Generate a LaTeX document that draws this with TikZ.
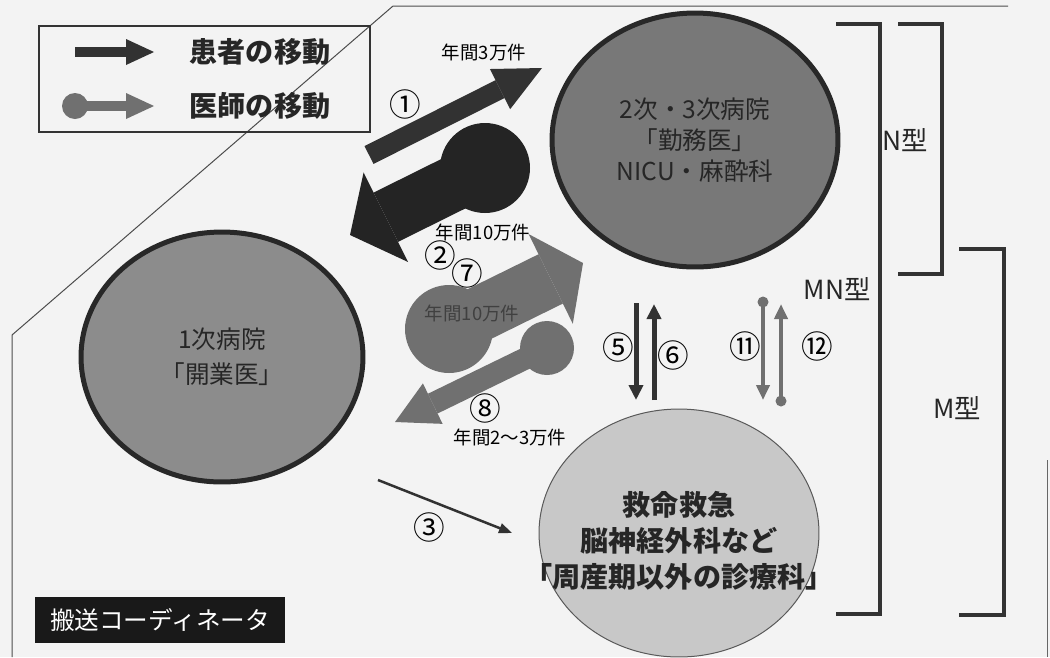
\documentclass[tikz,border=0pt]{standalone}
\usepackage{fontspec}
\setmainfont{Noto Sans CJK JP}
\usetikzlibrary{arrows.meta,shapes.geometric}
\definecolor{bgpaper}{RGB}{243,243,243}
\definecolor{patdark}{RGB}{50,50,50}
\definecolor{patdeep}{RGB}{36,36,36}
\definecolor{docgray}{RGB}{112,112,112}
\definecolor{hospA}{RGB}{140,140,140}
\definecolor{hospB}{RGB}{120,120,120}
\definecolor{hospC}{RGB}{200,200,200}
\definecolor{rimdark}{RGB}{40,40,40}
\begin{document}
\begin{tikzpicture}[x=0.02cm, y=-0.02cm,
  hosp/.style={ellipse, draw=rimdark, line width=0.1cm, inner sep=0pt, align=center, text=black!85},
  num/.style={font=\fontsize{18}{18}\selectfont, inner sep=0pt},
  cnt/.style={font=\fontsize{10.5}{12}\selectfont, inner sep=0pt},
  typ/.style={font=\fontsize{15}{15}\selectfont, inner sep=0pt, text=black!85},
  bracket/.style={draw=black!80, line width=0.08cm},
  ball/.style={circle, fill=#1, inner sep=0pt},
  thinpat/.style={draw=patdark, line width=0.1cm, -{Triangle[length=0.3cm, width=0.28cm]}},
  thindoc/.style={draw=docgray, line width=0.08cm, -{Triangle[length=0.3cm, width=0.26cm]}}]
\useasboundingbox (0,0) rectangle (1050,657);
\fill[bgpaper] (0,0) rectangle (1050,657);
\draw[black!70, line width=0.02cm] (12,657) -- (12,335) -- (393,6) -- (1008,6);
\draw[black!60, line width=0.02cm] (1047,460) -- (1047,657);

\node[draw=black!80, line width=0.03cm, minimum width=6.62cm, minimum height=2.12cm, inner sep=0pt] (legend) at (204.5,79) {};
\coordinate (lp1) at (75,52);
\coordinate (lp2) at (154,52);
\draw[patdark, line width=0.2cm, -{Triangle[length=0.56cm, width=0.52cm, line width=0pt]}] (lp1) -- (lp2);
\node[ball=docgray, minimum size=0.52cm] (ld1) at (75,106) {};
\coordinate (ld2) at (154,106);
\draw[docgray, line width=0.2cm, -{Triangle[length=0.56cm, width=0.52cm, line width=0pt]}] (ld1.center) -- (ld2);
\node[font=\fontsize{16}{16}\selectfont\bfseries, text=black!85] (lt1) at (260,52) {患者の移動};
\node[font=\fontsize{16}{16}\selectfont\bfseries, text=black!85] (lt2) at (260,106) {医師の移動};

\node[hosp, fill=hospB, minimum width=5.72cm, minimum height=5.08cm, font=\fontsize{14}{17.6}\selectfont] (sec) at (695,140) {2次・3次病院\\「勤務医」\\NICU・麻酔科};
\node[hosp, fill=hospA, minimum width=5.64cm, minimum height=5cm, font=\fontsize{14}{20}\selectfont] (pri) at (222,357) {1次病院\\「開業医」};
\node[hosp, fill=hospC, draw=black!65, line width=0.02cm, minimum width=5.6cm, minimum height=4.96cm] (emg) at (679,533) {};
\node[align=center, inner sep=0pt, text=black!85, font=\fontsize{16}{20.5}\selectfont\bfseries] (emgtxt) at (679,541) {救命救急\\脳神経外科など\\「周産期以外の診療科」};

\coordinate (a1s) at (369,155);
\coordinate (a1e) at (542,68);
\draw[patdark, line width=0.4cm, -{Triangle[length=0.94cm, width=0.9cm, line width=0pt]}] (a1s) -- (a1e);
\node[ball=patdeep, minimum size=1.8cm] (b2) at (485,168) {};
\coordinate (a2e) at (350,235);
\draw[patdeep, line width=1.1cm, -{Triangle[length=0.8cm, width=2cm, line width=0pt]}] (b2.center) -- (a2e);
\node[ball=docgray, minimum size=1.76cm] (b7) at (449,329) {};
\coordinate (a7e) at (583,263);
\draw[docgray, line width=1.1cm, -{Triangle[length=0.72cm, width=2cm, line width=0pt]}] (b7.center) -- (a7e);
\node[ball=docgray, minimum size=1.08cm] (b8) at (547,348) {};
\coordinate (a8e) at (395,422);
\draw[docgray, line width=0.44cm, -{Triangle[length=0.84cm, width=0.9cm, line width=0pt]}] (b8.center) -- (a8e);

\coordinate (d5s) at (636,303);
\coordinate (d5e) at (636,400);
\draw[thinpat] (d5s) -- (d5e);
\coordinate (u6s) at (654,400);
\coordinate (u6e) at (654,304);
\draw[thinpat] (u6s) -- (u6e);
\node[ball=docgray, minimum size=0.22cm] (d11) at (763,302) {};
\coordinate (d11e) at (763,400);
\draw[thindoc] (d11.center) -- (d11e);
\node[ball=docgray, minimum size=0.22cm] (u12) at (781,401) {};
\coordinate (u12e) at (781,304);
\draw[thindoc] (u12.center) -- (u12e);
\coordinate (p3s) at (378,480);
\coordinate (p3e) at (512,533);
\draw[patdark, line width=0.05cm, -{Triangle[length=0.26cm, width=0.2cm]}] (p3s) -- (p3e);

\node[cnt] (y1) at (484,52) {年間3万件};
\node[num] (n1) at (405,104) {①};
\node[cnt] (y2) at (483,232) {年間10万件};
\node[num] (n2) at (440,255) {②};
\node[num] (n7) at (467,273) {⑦};
\node[cnt, text=black!75] (y7) at (472,313) {年間10万件};
\node[num] (n8) at (485,408) {⑧};
\node[cnt] (y8) at (510,437) {年間2〜3万件};
\node[num] (n3) at (429,527) {③};
\node[num] (n5) at (618,347) {⑤};
\node[num] (n6) at (673,355) {⑥};
\node[num] (n11) at (745,346) {⑪};
\node[num] (n12) at (817,346) {⑫};

\draw[bracket] (836,24) -- (880,24) -- (880,614) -- (836,614);
\draw[bracket] (898,24) -- (942,24) -- (942,274) -- (898,274);
\draw[bracket] (959,249) -- (1004,249) -- (1004,615) -- (959,615);
\node[typ] (tn) at (905,140) {N型};
\node[typ] (tmn) at (837,289) {MN型};
\node[typ] (tm) at (957,408) {M型};

\node[fill=black!90, text=white, minimum width=5cm, minimum height=0.92cm, inner sep=0pt, font=\fontsize{14}{14}\selectfont] (coord) at (160,620) {搬送コーディネータ};
\end{tikzpicture}
\end{document}
